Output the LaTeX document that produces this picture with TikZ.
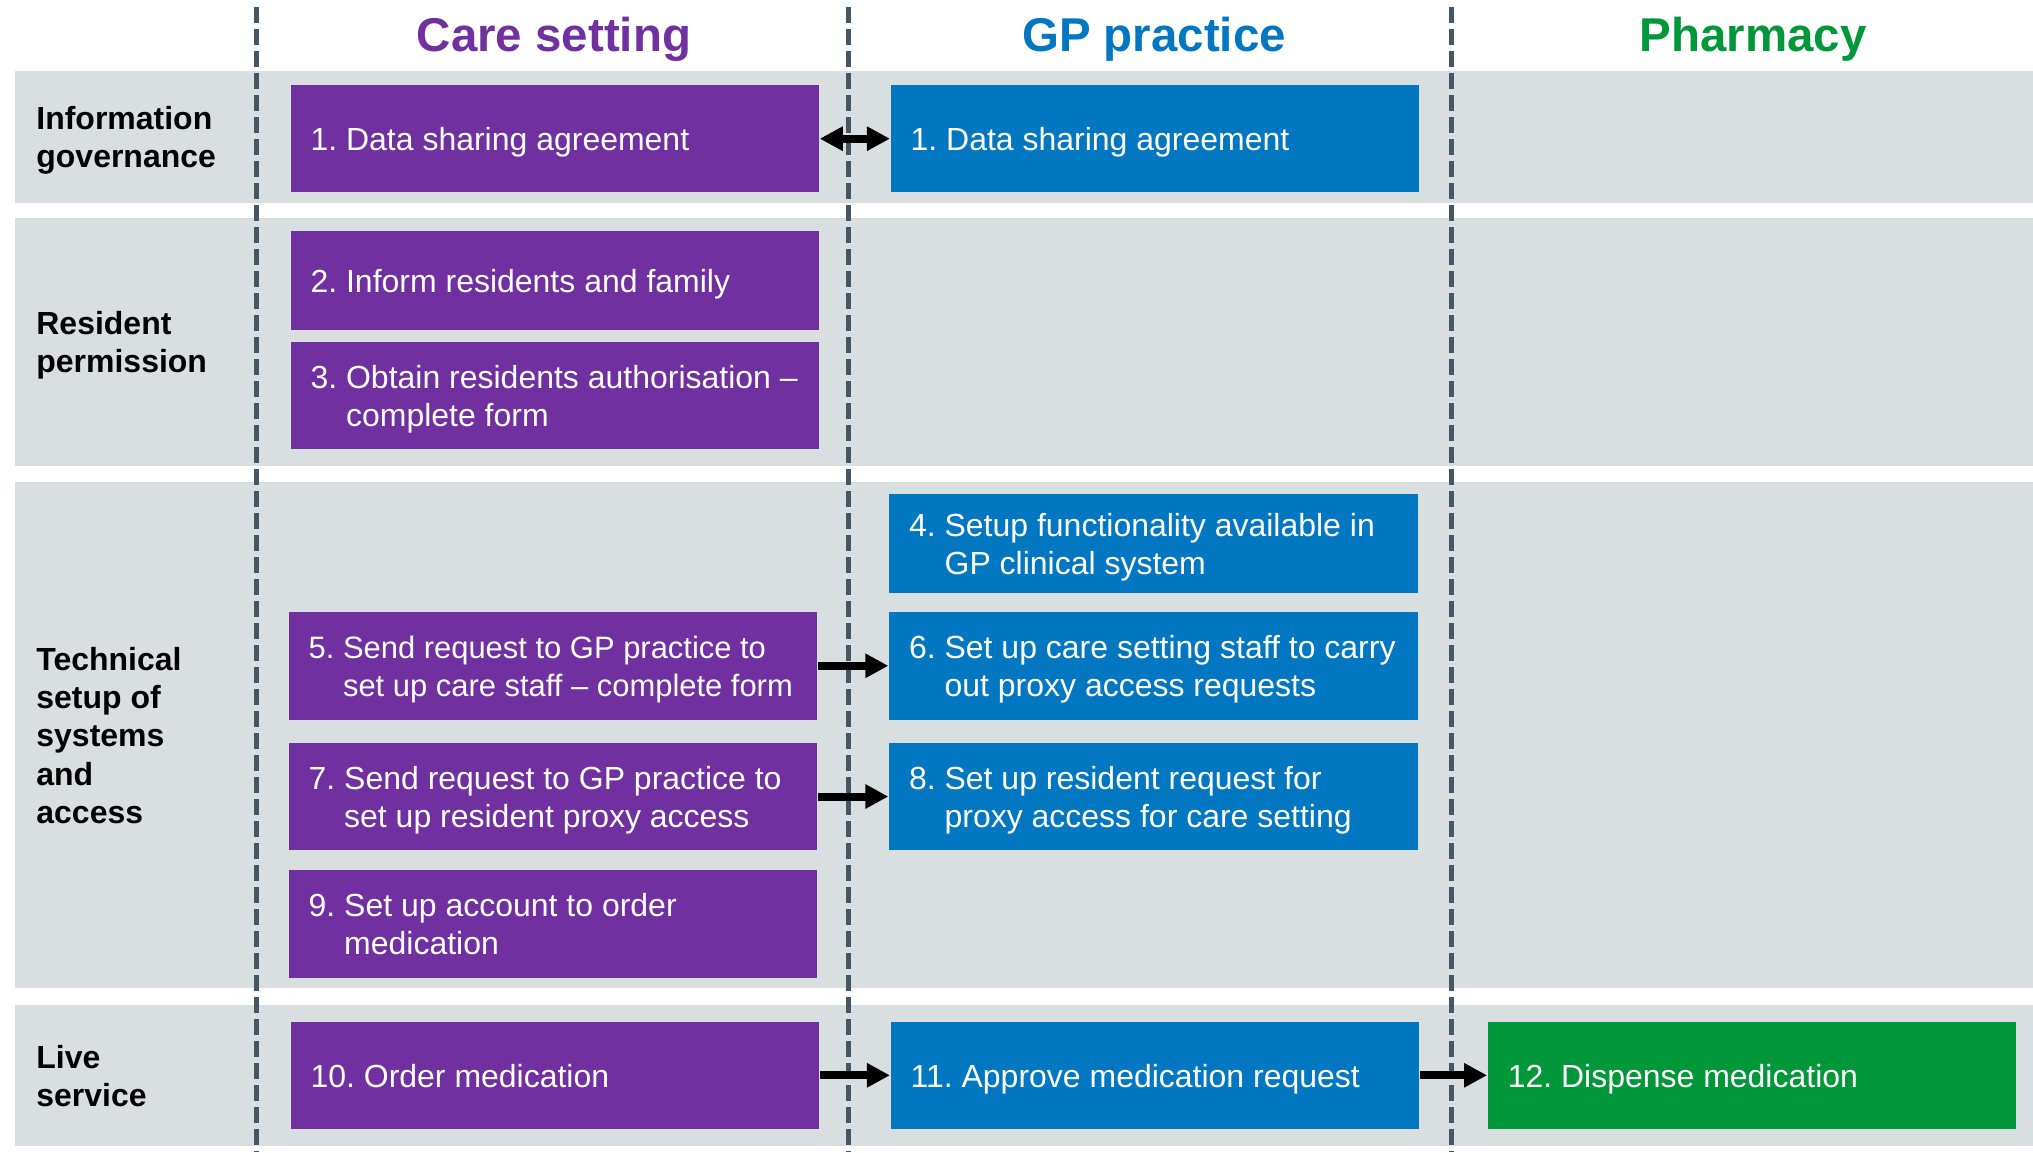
\documentclass[tikz,border=0pt]{standalone}
\usepackage{fontspec}
\setmainfont{Liberation Sans}
\usetikzlibrary{arrows.meta}
\definecolor{carepurple}{HTML}{7030A0}
\definecolor{gpblue}{HTML}{0077C0}
\definecolor{pharmgreen}{HTML}{00963A}
\definecolor{bandgrey}{HTML}{D9DEE1}
\definecolor{laneline}{HTML}{455766}
\frenchspacing
\newcommand{\boxlines}[1]{\raisebox{-1.2pt}[\height][\depth]{\makebox[4.885cm][l]{\begin{tabular}{@{}l@{}}#1\end{tabular}}}}
\newcommand{\rowlines}[1]{\raisebox{-1.2pt}[\height][\depth]{\begin{tabular}{@{}l@{}}#1\end{tabular}}}
\begin{document}
\begin{tikzpicture}[x=1cm,y=-1cm]
                \tikzset{every node/.style={font=\fontsize{9.1}{10.9}\selectfont},
                    stepbox/.style={rectangle, minimum width=5.285cm, inner xsep=0.2cm, inner ysep=0pt, text=white},
                    rowlabel/.style={anchor=west, inner sep=0pt, font=\fontsize{9.1}{10.9}\selectfont\bfseries},
                    lanetitle/.style={anchor=base, inner sep=0pt, font=\fontsize{13.5}{16}\selectfont\bfseries},
                    laneline/.style={draw=laneline, line width=0.05cm, dash pattern=on 0.16cm off 0.06cm},
                    flowarrow/.style={line width=0.08cm, -{Triangle[length=0.23cm,width=0.23cm]}}}
                \useasboundingbox (0,0) rectangle (20.33,11.52);
                \fill[bandgrey] (0.149,0.709) rectangle (20.33,2.028);
                \fill[bandgrey] (0.149,2.179) rectangle (20.33,4.658);
                \fill[bandgrey] (0.149,4.816) rectangle (20.33,9.882);
                \fill[bandgrey] (0.149,10.051) rectangle (20.33,11.462);
                \draw[laneline] (2.562,0.073) -- (2.562,11.52);
                \draw[laneline] (8.483,0.073) -- (8.483,11.52);
                \draw[laneline] (14.512,0.073) -- (14.512,11.52);
                \node[lanetitle, text=carepurple] (tcare) at (5.54,0.515) {Care setting};
                \node[lanetitle, text=gpblue] (tgp) at (11.54,0.515) {GP practice};
                \node[lanetitle, text=pharmgreen] (tpharm) at (17.53,0.515) {Pharmacy};
                \node[rowlabel] (rgov) at (0.357,1.369) {\rowlines{Information\\governance}};
                \node[rowlabel] (rperm) at (0.357,3.419) {\rowlines{Resident\\permission}};
                \node[rowlabel] (rtech) at (0.357,7.349) {\rowlines{Technical\\setup of\\systems\\and\\access}};
                \node[rowlabel] (rlive) at (0.357,10.757) {\rowlines{Live\\service}};
                \node[stepbox, fill=carepurple, minimum height=1.076cm] (cs1) at (5.548,1.387) {\boxlines{1. Data sharing agreement}};
                \node[stepbox, fill=gpblue, minimum height=1.076cm] (gp1) at (11.549,1.387) {\boxlines{1. Data sharing agreement}};
                \node[stepbox, fill=carepurple, minimum height=0.981cm] (cs2) at (5.548,2.805) {\boxlines{2. Inform residents and family}};
                \node[stepbox, fill=carepurple, minimum height=1.062cm] (cs3) at (5.548,3.955) {\boxlines{3. Obtain residents authorisation --\\\hphantom{3.\ }complete form}};
                \node[stepbox, fill=gpblue, minimum height=0.984cm] (gp4) at (11.533,5.433) {\boxlines{4. Setup functionality available in\\\hphantom{4.\ }GP clinical system}};
                \node[stepbox, fill=carepurple, minimum height=1.076cm, font=\fontsize{8.8}{10.9}\selectfont] (cs5) at (5.529,6.658) {\boxlines{5. Send request to GP practice to\\\hphantom{5.\ }set up care staff -- complete form}};
                \node[stepbox, fill=gpblue, minimum height=1.076cm] (gp6) at (11.533,6.658) {\boxlines{6. Set up care setting staff to carry\\\hphantom{6.\ }out proxy access requests}};
                \node[stepbox, fill=carepurple, minimum height=1.065cm] (cs7) at (5.529,7.965) {\boxlines{7. Send request to GP practice to\\\hphantom{7.\ }set up resident proxy access}};
                \node[stepbox, fill=gpblue, minimum height=1.065cm] (gp8) at (11.533,7.965) {\boxlines{8. Set up resident request for\\\hphantom{8.\ }proxy access for care setting}};
                \node[stepbox, fill=carepurple, minimum height=1.076cm] (cs9) at (5.529,9.237) {\boxlines{9. Set up account to order\\\hphantom{9.\ }medication}};
                \node[stepbox, fill=carepurple, minimum height=1.065cm] (cs10) at (5.548,10.753) {\boxlines{10. Order medication}};
                \node[stepbox, fill=gpblue, minimum height=1.065cm] (gp11) at (11.549,10.753) {\boxlines{11. Approve medication request}};
                \node[stepbox, fill=pharmgreen, minimum height=1.065cm] (ph12) at (17.520,10.753) {\boxlines{12. Dispense medication}};
                \draw[flowarrow, {Triangle[length=0.23cm,width=0.23cm]}-{Triangle[length=0.23cm,width=0.23cm]}] (cs1) -- (gp1);
                \draw[flowarrow] (cs5) -- (gp6);
                \draw[flowarrow] (cs7) -- (gp8);
                \draw[flowarrow] (cs10) -- (gp11);
                \draw[flowarrow] (gp11) -- (ph12);
            \end{tikzpicture}
\end{document}
